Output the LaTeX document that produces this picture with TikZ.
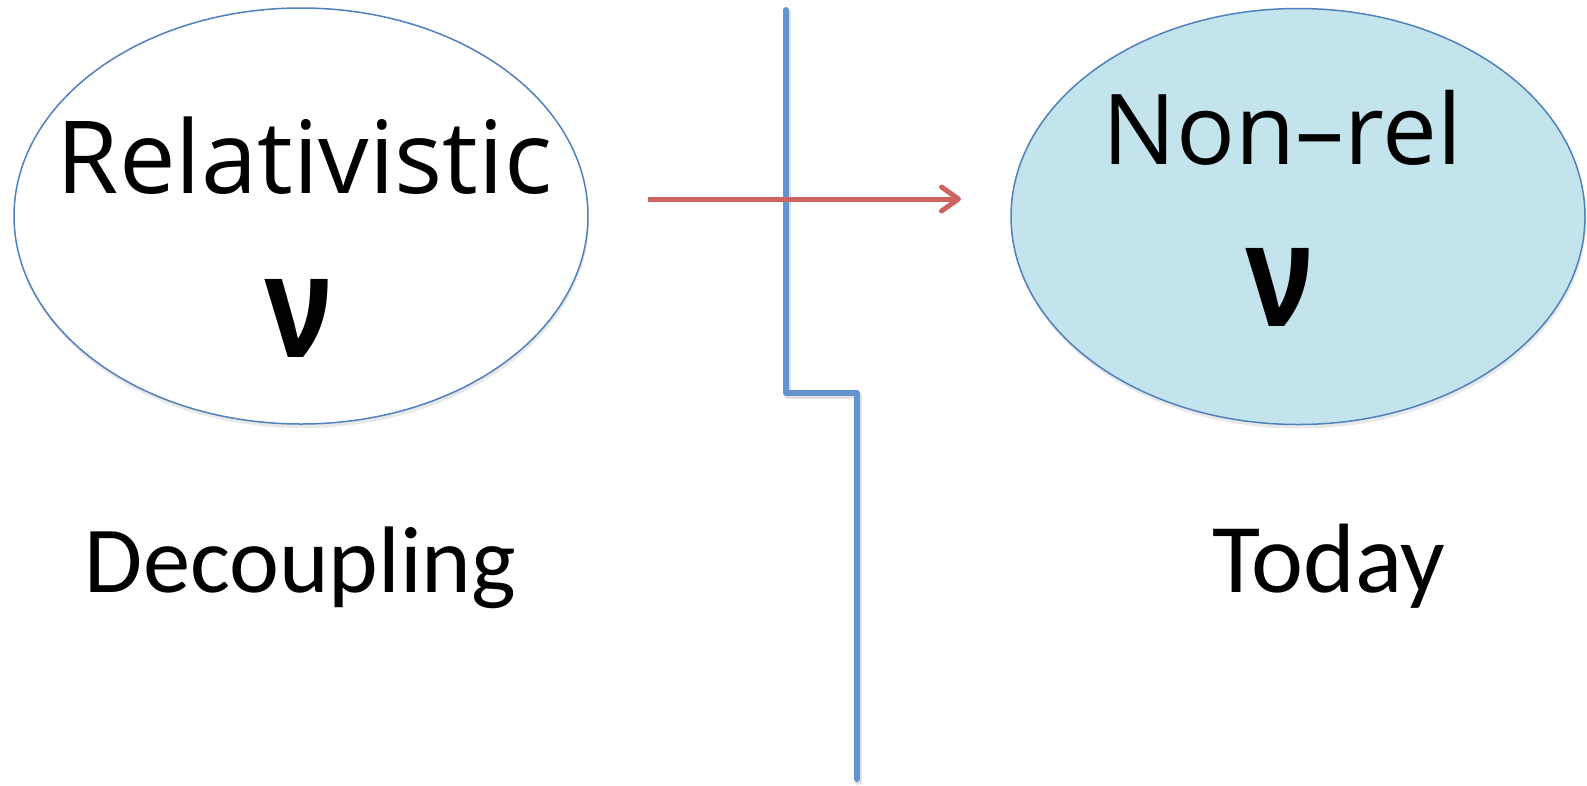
\documentclass[tikz,border=0pt]{standalone}
\usepackage{fontspec}
\usetikzlibrary{shapes.geometric,arrows.meta,shadows}
\newfontfamily\lucidaf{Open Sans}
\newfontfamily\calibf{Carlito}
\definecolor{edgeblue}{RGB}{79,129,189}
\definecolor{lineblue}{RGB}{98,147,204}
\definecolor{fillblue}{RGB}{195,227,237}
\definecolor{arrowred}{RGB}{205,100,95}
\tikzset{
  bubble/.style={ellipse, draw=edgeblue, line width=1.5pt, minimum width=574pt, minimum height=416pt, inner sep=0pt,
     drop shadow={opacity=0.18, shadow xshift=1pt, shadow yshift=-4pt}},
  txt/.style={inner sep=0pt, outer sep=0pt, anchor=base},
  divider/.style={draw=lineblue, line width=6pt, line join=round, line cap=round},
  flow/.style={draw=arrowred, line width=5pt, -{Straight Barb[length=17pt,width=24pt,line width=5pt, round]}},
  lineshadow/.style={draw=black, opacity=0.12, line width=7pt, line join=round, line cap=round, transform canvas={xshift=1.5pt, yshift=-2.5pt}}
}
\begin{document}
\begin{tikzpicture}[x=1pt,y=-1pt]
\useasboundingbox (0,0) rectangle (1587,785);
\node[bubble, fill=white] (rel) at (301,216) {};
\node[bubble, fill=fillblue] (nonrel) at (1298,216.5) {};
\node[txt] (reltext) at (304.5,193) {\resizebox{495pt}{!}{\lucidaf Relativistic}};
\node[txt] (nu1) at (299,357) {\resizebox{68pt}{78pt}{\lucidaf\fontseries{sb}\selectfont ν}};
\node[txt] (nrtext) at (1282.5,164) {\resizebox{359pt}{!}{\lucidaf Non–rel}};
\node[txt] (nu2) at (1280,326) {\resizebox{68pt}{78pt}{\lucidaf\fontseries{sb}\selectfont ν}};
\node[txt] (dec) at (300.5,592) {\resizebox{431pt}{!}{\calibf Decoupling}};
\node[txt] (today) at (1328.5,592) {\resizebox{233pt}{!}{\calibf Today}};
\coordinate (ltop) at (786,10);
\coordinate (lcorner) at (786,393);
\coordinate (rcorner) at (857,393);
\coordinate (lbot) at (857,779);
\path[lineshadow] (ltop) -- (lcorner) -- (rcorner) -- (lbot);
\path[divider] (ltop) -- (lcorner) -- (rcorner) -- (lbot);
\coordinate (astart) at (648,199);
\coordinate (aend) at (961,199);
\path[flow] (astart) -- (aend);
\end{tikzpicture}
\end{document}
